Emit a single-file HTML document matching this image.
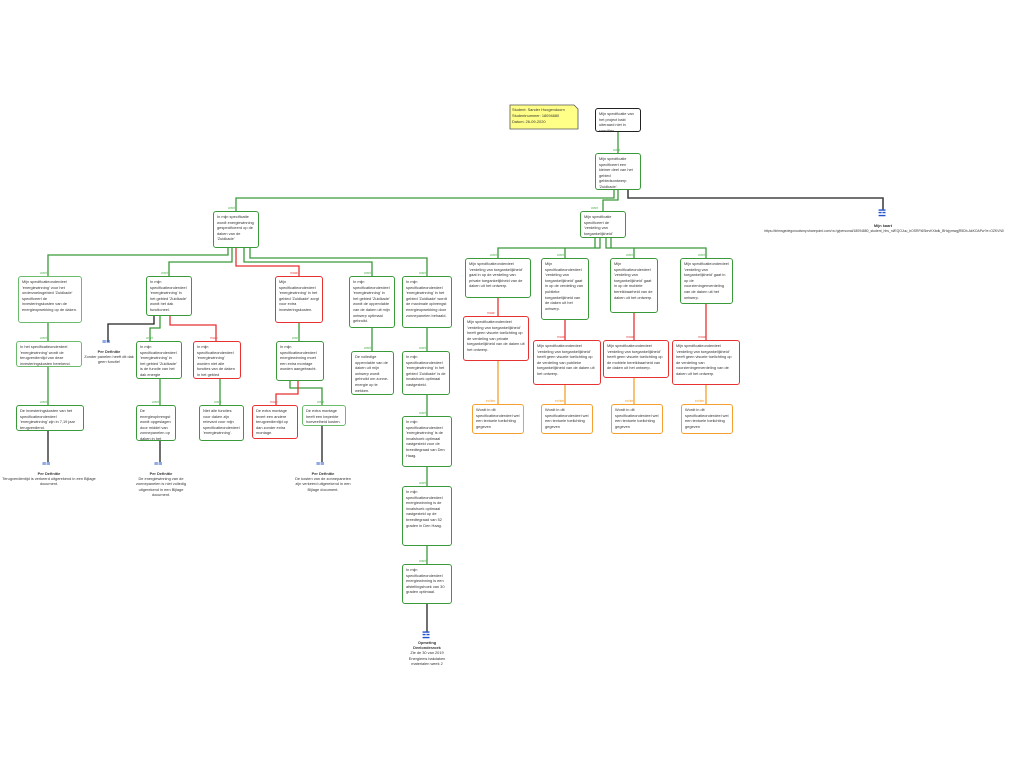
<!DOCTYPE html>
<html><head><meta charset="utf-8"><style>
body{margin:0;width:1024px;height:768px;background:#fff;position:relative;overflow:hidden;font-family:"Liberation Sans",sans-serif}
.b{position:absolute;box-sizing:border-box;border:1.3px solid #3a9a3a;border-radius:3px;background:#fff;font-size:3.9px;line-height:5.6px;color:#333;padding:2px 3px;overflow:hidden}
.lg{border-color:#6cba6c}
.r{border-color:#e83232}
.o{border-color:#f5a030}
.k{border-color:#222}
.t{position:absolute;font-size:3.9px;line-height:5.2px;color:#333;text-align:center}
.w{position:absolute;font-size:3.4px;color:#5cb85c}
.m{position:absolute;font-size:3.4px;color:#e85050}
.e{position:absolute;font-size:3.4px;color:#f5a030}
.ic{position:absolute;font-size:7px;color:#2255cc;font-weight:bold}
svg{position:absolute;left:0;top:0}
</style></head><body>
<svg width="1024" height="768" fill="none" stroke-width="1.3">
<g stroke="#3a9a3a">
<path d="M618 132V153"/>
<path d="M614 190V198H236V211"/>
<path d="M618 190V200H603V211"/>
<path d="M228 248V255H48V276"/>
<path d="M232 248V262H169V276"/>
<path d="M244 248V262H372V276"/>
<path d="M250 248V258H427V276"/>
<path d="M48 323V341M48 367V405"/>
<path d="M160 316V328H150V341M160 379V405"/>
<path d="M220 379V405"/>
<path d="M299 323V341M290 381V388H322V405"/>
<path d="M372 328V351M427 328V351M427 395V416M427 467V486M427 546V564"/>
<path d="M595 238V248H498V258M600 238V248H565V258M606 238V248H634V258M611 238V248H706V258"/>
</g>
<g stroke="#e83232">
<path d="M236 248V266H299V276"/>
<path d="M170 316V325H216V341"/>
<path d="M298 381V394H276V405"/>
<path d="M498 298V316M565 320V340M634 313V340M706 304V340"/>
</g>
<g stroke="#f5a030">
<path d="M498 361V404M565 385V404M634 378V404M706 385V404"/>
</g>
<g stroke="#222">
<path d="M154 316V324H108V342"/>
<path d="M48 431V462M160 441V462M322 426V462M427 604V632"/>
</g>
<path d="M628 190V198H883V210" stroke="#444" stroke-width="1.6"/>
<path d="M510 105H574L578 109V129H510Z" fill="#ffff88" stroke="#555" stroke-width="0.8"/>
</svg>
<div class="t" style="left:512px;top:107px;text-align:left;line-height:6px">Student: Sander Hoogendoorn<br>Studentnummer: 18094880<br>Datum: 26-09-2020</div>
<div class="b k" style="left:595px;top:108px;width:46px;height:24px">Mijn specificatie van het project bakt uiteraard niet in specifies</div>
<div class="b" style="left:595px;top:153px;width:46px;height:37px">Mijn specificatie specificeert een kleiner deel van het gebied gebiedsontwerp 'Zuidkade'.</div>
<div class="b" style="left:213px;top:211px;width:46px;height:37px">In mijn specificatie wordt energiewinning gespecificeerd op de daken van de 'Zuidkade'</div>
<div class="b" style="left:580px;top:211px;width:46px;height:27px">Mijn specificatie specificeert de 'verdeling van toegankelijkheid'</div>

<div class="b lg" style="left:18px;top:276px;width:64px;height:47px">Mijn specificatieonderdeel 'energiewinning' voor het onderzoeksgebied 'Zuidkade' specificeert de investeringskosten van de energieopwekking op de daken.</div>
<div class="b" style="left:146px;top:276px;width:46px;height:40px">In mijn specificatieonderdeel 'energiewinning' in het gebied 'Zuidkade' wordt het dak functioneel.</div>
<div class="b r" style="left:275px;top:276px;width:48px;height:47px">Mijn specificatieonderdeel 'energiewinning' in het gebied 'Zuidkade' zorgt voor extra investeringskosten.</div>
<div class="b" style="left:349px;top:276px;width:46px;height:52px">In mijn specificatieonderdeel 'energiewinning' in het gebied 'Zuidkade' wordt de oppervlakte van de daken uit mijn ontwerp optimaal gebruikt.</div>
<div class="b" style="left:402px;top:276px;width:50px;height:52px">In mijn specificatieonderdeel 'energiewinning' in het gebied 'Zuidkade' wordt de maximale opbrengst energieopwekking door zonnepanelen behaald.</div>

<div class="b lg" style="left:16px;top:341px;width:66px;height:26px">In het specificatieonderdeel 'energiewinning' wordt de terugverdientijd van deze investeringskosten berekend.</div>
<div class="ic" style="left:102px;top:339px">&#8801;&#8801;</div>
<div class="t" style="left:84px;top:349px;width:50px"><b>Per Definitie</b><br>Zonder panelen heeft dit dak geen functie!</div>
<div class="b" style="left:136px;top:341px;width:46px;height:38px">In mijn specificatieonderdeel 'energiewinning' in het gebied 'Zuidkade' is de functie van het dak energie opbrengen.</div>
<div class="b r" style="left:193px;top:341px;width:48px;height:38px">In mijn specificatieonderdeel 'energiewinning' worden niet alle functies van de daken in het gebied 'Zuidkade' omschreven.</div>
<div class="b" style="left:276px;top:341px;width:48px;height:40px">In mijn specificatieonderdeel energiewinning moet een extra montage worden aangebracht.</div>
<div class="b" style="left:351px;top:351px;width:43px;height:44px">De volledige oppervlakte van de daken uit mijn ontwerp wordt gebruikt om zonne-energie op te wekken.</div>
<div class="b" style="left:402px;top:351px;width:48px;height:44px">In mijn specificatieonderdeel 'energiewinning' in het gebied 'Zuidkade' is de invalshoek optimaal vastgesteld.</div>

<div class="b" style="left:16px;top:405px;width:68px;height:26px">De investeringskosten van het specificatieonderdeel 'energiewinning' zijn in 7,19 jaar terugverdiend.</div>
<div class="b" style="left:136px;top:405px;width:40px;height:36px">De energieopbrengst wordt opgeslagen door middel van zonnepanelen op daken in het gebied 'Zuidkade'.</div>
<div class="b" style="left:199px;top:405px;width:45px;height:36px">Niet alle functies voor daken zijn relevant voor mijn specificatieonderdeel 'energiewinning'.</div>
<div class="b r" style="left:252px;top:405px;width:46px;height:34px">De extra montage levert een andere terugverdientijd op dan zonder extra montage.</div>
<div class="b lg" style="left:302px;top:405px;width:44px;height:21px">De extra montage heeft een beperkte hoeveelheid kosten.</div>
<div class="b" style="left:402px;top:416px;width:50px;height:51px">In mijn specificatieonderdeel 'energiewinning' is de invalshoek optimaal vastgesteld voor de breedtegraad van Den Haag.</div>
<div class="b" style="left:402px;top:486px;width:50px;height:60px">In mijn specificatieonderdeel energiewinning is de invalshoek optimaal vastgesteld op de breedtegraad van 52 graden in Den Haag.</div>
<div class="b" style="left:402px;top:564px;width:50px;height:40px">In mijn specificatieonderdeel energiewinning is een afstellingshoek van 30 graden optimaal.</div>

<div class="ic" style="left:42px;top:461px">&#8801;&#8801;</div>
<div class="t" style="left:0px;top:471px;width:98px"><b>Per Definitie</b><br>Terugverdientijd is verkeerd uitgerekend in een Bijlage document.</div>
<div class="ic" style="left:154px;top:461px">&#8801;&#8801;</div>
<div class="t" style="left:135px;top:471px;width:52px"><b>Per Definitie</b><br>De energiewinning van de zonnepanelen is niet volledig uitgerekend in een Bijlage document.</div>
<div class="ic" style="left:316px;top:461px">&#8801;&#8801;</div>
<div class="t" style="left:295px;top:471px;width:56px"><b>Per Definitie</b><br>De kosten van de zonnepanelen zijn verkeerd uitgerekend in een Bijlage document.</div>
<div class="ic" style="left:422px;top:630px;font-size:9px">&#9778;</div>
<div class="t" style="left:404px;top:640px;width:46px"><b>Opmeting<br>Deelonderzoek</b><br>Zie de 30 van 2019 Energiems bakdaken materialen week 2</div>

<div class="b" style="left:465px;top:258px;width:66px;height:40px">Mijn specificatieonderdeel 'verdeling van toegankelijkheid' gaat in op de verdeling van private toegankelijkheid van de daken uit het ontwerp.</div>
<div class="b" style="left:541px;top:258px;width:48px;height:62px">Mijn specificatieonderdeel 'verdeling van toegankelijkheid' gaat in op de verdeling van publieke toegankelijkheid van de daken uit het ontwerp.</div>
<div class="b" style="left:610px;top:258px;width:48px;height:55px">Mijn specificatieonderdeel 'verdeling van toegankelijkheid' gaat in op de mobiele bereikbaarheid van de daken uit het ontwerp.</div>
<div class="b" style="left:680px;top:258px;width:53px;height:46px">Mijn specificatieonderdeel 'verdeling van toegankelijkheid' gaat in op de voorzieningenverdeling van de daken uit het ontwerp.</div>

<div class="b r" style="left:463px;top:316px;width:66px;height:45px">Mijn specificatieonderdeel 'verdeling van toegankelijkheid' heeft geen visuele toelichting op de verdeling van private toegankelijkheid van de daken uit het ontwerp.</div>
<div class="b r" style="left:533px;top:340px;width:68px;height:45px">Mijn specificatieonderdeel 'verdeling van toegankelijkheid' heeft geen visuele toelichting op de verdeling van publieke toegankelijkheid van de daken uit het ontwerp.</div>
<div class="b r" style="left:603px;top:340px;width:66px;height:38px">Mijn specificatieonderdeel 'verdeling van toegankelijkheid' heeft geen visuele toelichting op de mobiele bereikbaarheid van de daken uit het ontwerp.</div>
<div class="b r" style="left:672px;top:340px;width:68px;height:45px">Mijn specificatieonderdeel 'verdeling van toegankelijkheid' heeft geen visuele toelichting op de verdeling van voorzieningenverdeling van de daken uit het ontwerp.</div>

<div class="b o" style="left:472px;top:404px;width:52px;height:30px">Wordt in dit specificatieonderdeel wel een textuele toelichting gegeven</div>
<div class="b o" style="left:541px;top:404px;width:52px;height:30px">Wordt in dit specificatieonderdeel wel een textuele toelichting gegeven</div>
<div class="b o" style="left:611px;top:404px;width:52px;height:30px">Wordt in dit specificatieonderdeel wel een textuele toelichting gegeven</div>
<div class="b o" style="left:681px;top:404px;width:52px;height:30px">Wordt in dit specificatieonderdeel wel een textuele toelichting gegeven</div>

<div class="ic" style="left:878px;top:208px;font-size:9px">&#9778;</div>
<div class="t" style="left:860px;top:223px;width:46px"><b>Mijn kaart</b></div>
<div class="t" style="left:746px;top:229px;width:276px;font-size:3.4px;white-space:nowrap">https://drimsgedegonoolsmy.sharepoint.com/:w:/g/personal/18094880_student_hhs_nl/EQOJuu_bOSRFi6SbrvKXbdk_BHcjymwgjR5Db-AkKOAPw?e=OZKVN0</div>

<div class="w" style="left:613px;top:148px">want</div>
<div class="w" style="left:228px;top:206px">want</div>
<div class="w" style="left:591px;top:206px">want</div>
<div class="w" style="left:40px;top:271px">want</div>
<div class="w" style="left:161px;top:271px">want</div>
<div class="m" style="left:290px;top:271px">maar</div>
<div class="w" style="left:364px;top:271px">want</div>
<div class="w" style="left:419px;top:271px">want</div>
<div class="w" style="left:40px;top:336px">want</div>
<div class="w" style="left:146px;top:336px">want</div>
<div class="m" style="left:210px;top:336px">maar</div>
<div class="w" style="left:292px;top:336px">want</div>
<div class="w" style="left:364px;top:346px">want</div>
<div class="w" style="left:419px;top:346px">want</div>
<div class="w" style="left:40px;top:400px">want</div>
<div class="w" style="left:152px;top:400px">want</div>
<div class="w" style="left:214px;top:400px">want</div>
<div class="m" style="left:270px;top:400px">maar</div>
<div class="w" style="left:317px;top:400px">want</div>
<div class="w" style="left:419px;top:411px">want</div>
<div class="w" style="left:419px;top:481px">want</div>
<div class="w" style="left:419px;top:559px">want</div>
<div class="w" style="left:490px;top:253px">want</div>
<div class="w" style="left:557px;top:253px">want</div>
<div class="w" style="left:626px;top:253px">want</div>
<div class="w" style="left:698px;top:253px">want</div>
<div class="m" style="left:487px;top:311px">maar</div>
<div class="m" style="left:557px;top:335px">maar</div>
<div class="m" style="left:626px;top:335px">maar</div>
<div class="m" style="left:698px;top:335px">maar</div>
<div class="e" style="left:486px;top:399px">echter</div>
<div class="e" style="left:555px;top:399px">echter</div>
<div class="e" style="left:625px;top:399px">echter</div>
<div class="e" style="left:695px;top:399px">echter</div>
</body></html>
